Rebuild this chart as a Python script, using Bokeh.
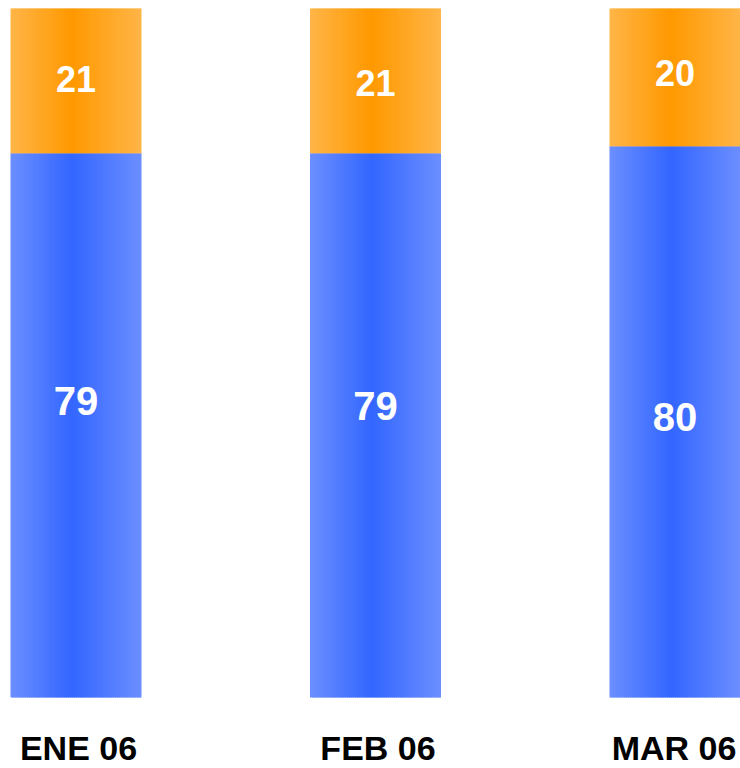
import numpy as np
from bokeh.plotting import figure
from bokeh.models import Range1d, ColumnDataSource
from bokeh.core.properties import value
from bokeh.embed import file_html
from bokeh.resources import INLINE

# ---- data ----
categories = ["ENE 06", "FEB 06", "MAR 06"]
blue_values = [79, 79, 80]
orange_values = [21, 21, 20]

# ---- style ----
bar_width = 0.4374
orange_edge = np.array([255, 181, 72])
orange_mid = np.array([255, 153, 0])
blue_edge = np.array([108, 143, 255])
blue_mid = np.array([51, 102, 255])
n_strips = 64
peak = 0.47
blue_label_dy = [-24, -19, -5]
orange_label_dy = [-1.5, 2.5, -4]
cat_label_dx = [2.5, 2.5, -1]

x = np.arange(len(categories), dtype=float)

p = figure(width=740, height=768, output_backend="svg", toolbar_location=None,
           x_range=Range1d(-0.2521, 2.2187), y_range=Range1d(-10.305, 101.161),
           min_border=0, outline_line_color=None)
p.axis.visible = False
p.grid.visible = False
p.background_fill_color = "white"
p.border_fill_color = "white"


def hexcol(c):
    c = np.clip(np.round(c), 0, 255).astype(int)
    return "#%02x%02x%02x" % tuple(c)


def gradient_quads(bottoms, tops, edge, mid):
    L, R, B, T, C = [], [], [], [], []
    dw = bar_width / n_strips
    for xi, b, t in zip(x, bottoms, tops):
        x0 = xi - bar_width / 2
        for k in range(n_strips):
            f = (k + 0.5) / n_strips
            d = abs(f - peak) / (peak if f < peak else 1 - peak)
            col = mid + (edge - mid) * d
            left = x0 + k * dw
            right = left + dw * (1.6 if k < n_strips - 1 else 1.0)
            L.append(left); R.append(right); B.append(b); T.append(t)
            C.append(hexcol(col))
    src = ColumnDataSource(dict(left=L, right=R, bottom=B, top=T, color=C))
    p.quad(left="left", right="right", bottom="bottom", top="top",
           fill_color="color", line_color=None, source=src)


blue_top = list(blue_values)
orange_top = [b + o for b, o in zip(blue_values, orange_values)]
gradient_quads([0] * len(x), blue_top, blue_edge, blue_mid)
gradient_quads(blue_top, orange_top, orange_edge, orange_mid)

font = value("Liberation Sans")

blue_src = ColumnDataSource(dict(x=x, y=[v / 2 for v in blue_values],
                                 t=[str(v) for v in blue_values], dy=blue_label_dy))
p.text(x="x", y="y", text="t", y_offset="dy", source=blue_src,
       text_font=font, text_font_style="bold", text_font_size="40px",
       text_color="white", text_align="center", text_baseline="middle")

orange_src = ColumnDataSource(dict(x=x, y=[b + o / 2 for b, o in zip(blue_values, orange_values)],
                                   t=[str(v) for v in orange_values], dy=orange_label_dy))
p.text(x="x", y="y", text="t", y_offset="dy", source=orange_src,
       text_font=font, text_font_style="bold", text_font_size="36px",
       text_color="white", text_align="center", text_baseline="middle")

cat_src = ColumnDataSource(dict(x=x, y=[0] * len(x), t=categories, dx=cat_label_dx))
p.text(x="x", y="y", text="t", source=cat_src, x_offset="dx", y_offset=51,
       text_font=font, text_font_style="bold", text_font_size="34px",
       text_color="black", text_align="center", text_baseline="middle")

open("out.html", "w").write(file_html(p, INLINE))
